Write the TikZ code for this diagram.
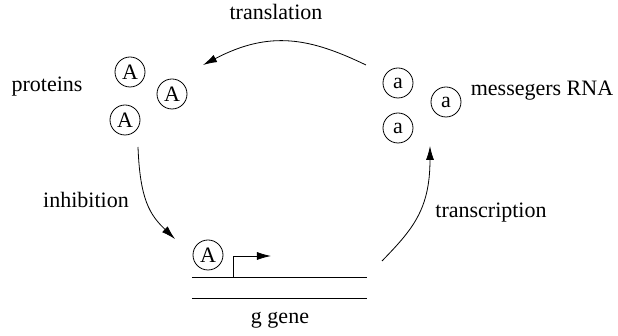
\documentclass[tikz,border=0pt]{standalone}
\usepackage{fontspec}
\setmainfont{Liberation Serif}
\usetikzlibrary{arrows.meta}

\begin{document}
\begin{tikzpicture}[x=0.5pt,y=-0.5pt,
  every node/.style={font=\fontsize{11}{13}\selectfont},
  mol/.style={draw,circle,minimum size=15pt,inner sep=0pt},
  react/.style={-{Latex[length=7pt,width=4pt]}}]

\useasboundingbox (0,0) rectangle (618,336);

% proteins
\node[mol] (A1) at (130,72) {A};
\node[mol] (A2) at (172,94) {A};
\node[mol] (A3) at (125,120) {A};
\node (prot) at (47,87) {proteins};

% messengers
\node[mol] (a1) at (398,83) {a};
\node[mol] (a2) at (446,102) {a};
\node[mol] (a3) at (398,128) {a};
\node (mrna) at (542,91) {messegers RNA};

% gene
\draw (192,277) -- (367,277);
\draw (192,298) -- (367,298);
\node (gene) at (280,320) {g gene};
\node[mol] (Ag) at (208,255) {A};
\coordinate (prom) at (233,277);
\coordinate (promend) at (271,256);
\draw[react] (prom) |- (promend);

% reactions
\coordinate (tlstart) at (366,65);
\coordinate (tlend) at (203,65);
\draw[react] (tlstart) .. controls (310,38) and (270,30) .. (tlend);
\node (tl) at (276,12) {translation};

\coordinate (inhstart) at (138,147);
\coordinate (inhend) at (175,239);
\draw[react] (inhstart) .. controls (140,200) and (150,215) .. (inhend);
\node (inh) at (86,200) {inhibition};

\coordinate (trstart) at (382,261);
\coordinate (trend) at (430,146);
\draw[react] (trstart) .. controls (412,230) and (430,210) .. (trend);
\node (tr) at (491,213) {transcription};

\end{tikzpicture}
\end{document}
